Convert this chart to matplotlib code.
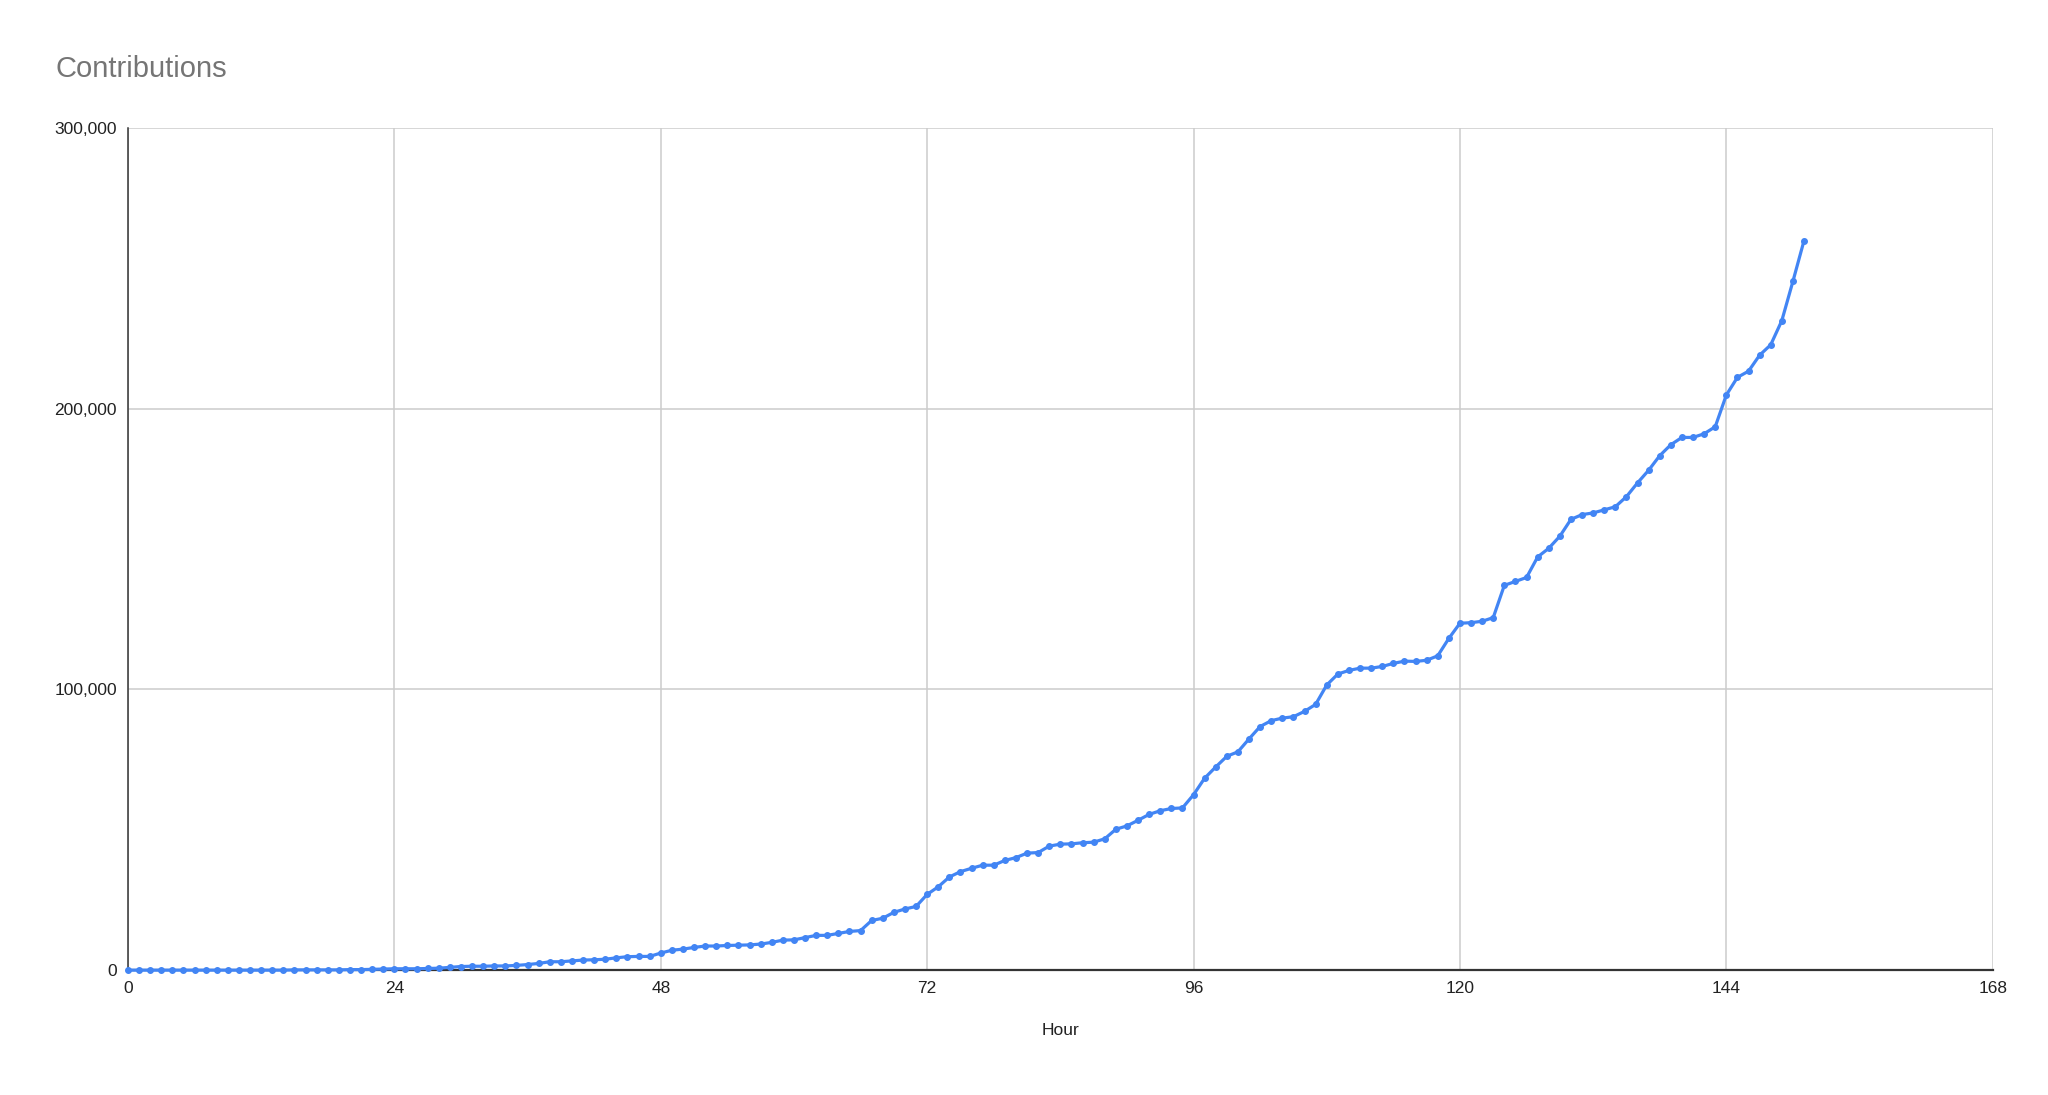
import matplotlib
matplotlib.use("Agg")
import matplotlib.pyplot as plt
from matplotlib.ticker import FuncFormatter

plt.rcParams['font.family'] = ['Liberation Sans', 'DejaVu Sans']

# hourly cumulative contributions (thousands)
hours = list(range(0, 152))
contrib_k = [
    0.0, 0.0, 0.0, 0.0, 0.0, 0.0, 0.0, 0.0, 0.0, 0.0, 0.0, 0.0,
    0.0, 0.0, 0.0, 0.1, 0.1, 0.1, 0.1, 0.1, 0.2, 0.2, 0.3, 0.4,
    0.5, 0.5, 0.5, 0.6, 0.7, 1.0, 1.3, 1.4, 1.4, 1.5, 1.5, 1.7,
    2.0, 2.4, 3.0, 3.0, 3.3, 3.6, 3.7, 3.9, 4.4, 4.8, 4.9, 4.9,
    6.1, 7.1, 7.5, 8.1, 8.6, 8.6, 8.8, 8.9, 9.0, 9.3, 9.9, 10.7,
    10.8, 11.6, 12.4, 12.4, 13.1, 13.8, 14.1, 17.7, 18.5, 20.6, 21.8, 22.7,
    27.0, 29.7, 33.2, 35.1, 36.3, 37.4, 37.4, 39.1, 40.1, 41.7, 41.9, 44.2,
    44.9, 45.0, 45.4, 45.6, 46.8, 50.2, 51.4, 53.4, 55.5, 56.8, 57.6, 57.8,
    62.5, 68.4, 72.4, 76.2, 77.8, 82.4, 86.8, 88.9, 89.8, 90.3, 92.2, 94.7,
    101.6, 105.5, 106.8, 107.6, 107.6, 108.2, 109.3, 110.1, 110.0, 110.4, 112.0, 118.2,
    123.6, 123.8, 124.3, 125.6, 137.1, 138.5, 139.9, 147.2, 150.3, 154.6, 160.6, 162.3,
    162.9, 164.0, 165.1, 168.7, 173.6, 178.1, 183.3, 187.2, 189.8, 189.8, 191.1, 193.6,
    204.9, 211.2, 213.4, 219.1, 222.8, 231.4, 245.4, 259.9,
]
contrib = [v * 1000 for v in contrib_k]

x_ticks = [0, 24, 48, 72, 96, 120, 144, 168]
y_ticks = [0, 100000, 200000, 300000]

fig = plt.figure(figsize=(20.48, 10.95), dpi=100)
ax = fig.add_axes([0.0625, 0.114, 0.9105, 0.769])

ax.plot(hours, contrib, color='#4285F4', linewidth=2.3, marker='o',
        markersize=4.0, zorder=3, clip_on=False)

ax.set_xlim(0, 168)
ax.set_ylim(0, 300000)
ax.set_xticks(x_ticks)
ax.set_yticks(y_ticks)
ax.yaxis.set_major_formatter(FuncFormatter(lambda v, p: f"{int(v):,}"))
ax.grid(True, color='#cccccc', linewidth=1.1)
ax.set_axisbelow(True)

for s in ['top', 'right']:
    ax.spines[s].set_visible(False)
ax.spines['left'].set_color('#333333')
ax.spines['bottom'].set_color('#333333')
ax.spines['left'].set_linewidth(1.1)
ax.spines['bottom'].set_linewidth(1.6)

ax.tick_params(length=0, labelsize=12.5, colors='#222222', pad=8)
ax.set_xlabel("Hour", fontsize=12.5, color='#222222', labelpad=19)

fig.text(0.027, 0.937, "Contributions", fontsize=21, color='#757575',
         ha='left', va='center')

fig.savefig("out.png", dpi=100, facecolor='white')
